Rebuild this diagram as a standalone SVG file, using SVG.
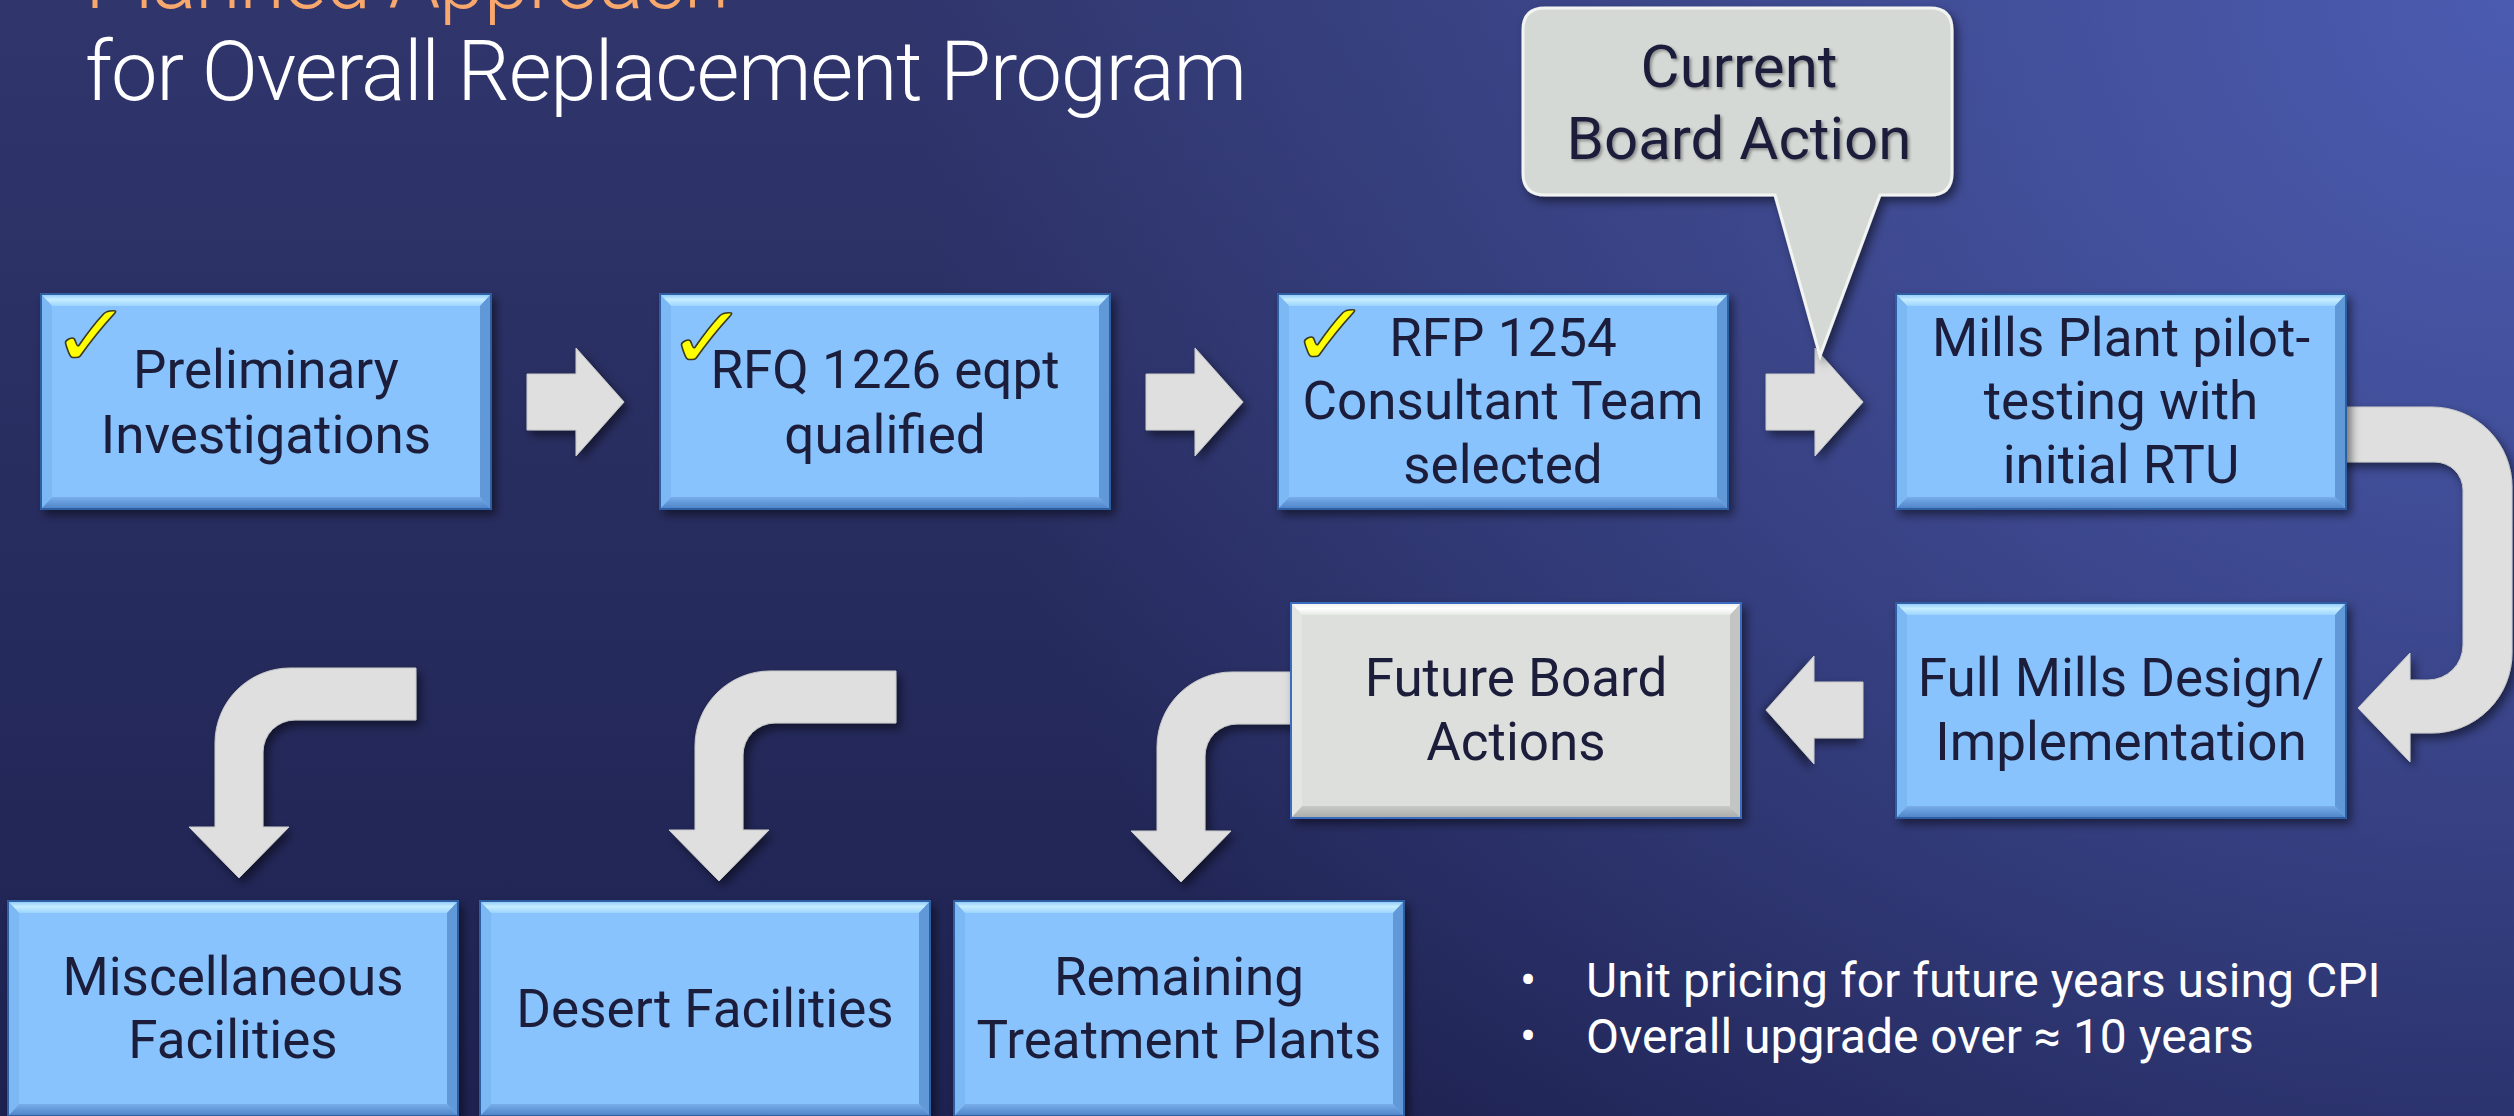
<svg xmlns="http://www.w3.org/2000/svg" width="2514" height="1116" viewBox="0 0 2514 1116">
<defs>
  <linearGradient id="bgv" x1="0" y1="0" x2="0" y2="1">
    <stop offset="0" stop-color="#30366C"/>
    <stop offset="1" stop-color="#1E2251"/>
  </linearGradient>
  <radialGradient id="bgr" cx="2514" cy="0" r="1600" gradientUnits="userSpaceOnUse">
    <stop offset="0" stop-color="#4B5BB0" stop-opacity="1"/>
    <stop offset="1" stop-color="#4B5BB0" stop-opacity="0"/>
  </radialGradient>
  <linearGradient id="topb" x1="0" y1="0" x2="0" y2="1">
    <stop offset="0" stop-color="#7FC0FA"/>
    <stop offset="0.5" stop-color="#C6EDFF"/>
    <stop offset="1" stop-color="#9CD4FF"/>
  </linearGradient>
  <linearGradient id="botb" x1="0" y1="0" x2="0" y2="1">
    <stop offset="0" stop-color="#78AEEA"/>
    <stop offset="1" stop-color="#4A7EC4"/>
  </linearGradient>
  <linearGradient id="topg" x1="0" y1="0" x2="0" y2="1">
    <stop offset="0" stop-color="#E8EAE8"/>
    <stop offset="0.5" stop-color="#FFFFFF"/>
    <stop offset="1" stop-color="#E6E8E6"/>
  </linearGradient>
  <linearGradient id="botg" x1="0" y1="0" x2="0" y2="1">
    <stop offset="0" stop-color="#C8CAC8"/>
    <stop offset="1" stop-color="#A6A9A6"/>
  </linearGradient>
  <filter id="sh" x="-10%" y="-10%" width="130%" height="130%">
    <feDropShadow dx="4" dy="5" stdDeviation="5" flood-color="#000" flood-opacity="0.5"/>
  </filter>
  <filter id="tsh" x="-5%" y="-5%" width="110%" height="120%">
    <feDropShadow dx="2" dy="2" stdDeviation="1.5" flood-color="#000" flood-opacity="0.35"/>
  </filter>
  <g id="bbox">
    <rect width="452" height="217" fill="#88C3FD"/>
    <polygon points="0,0 452,0 440,13 12,13" fill="url(#topb)"/>
    <polygon points="0,217 452,217 440,204 12,204" fill="url(#botb)"/>
    <polygon points="0,0 12,13 12,204 0,217" fill="#7CB8F4"/>
    <polygon points="452,0 440,13 440,204 452,217" fill="#6198D8"/>
    <rect x="1" y="1" width="450" height="215" fill="none" stroke="#2E5EA2" stroke-width="2"/>
  </g>
  <g id="gbox">
    <rect width="452" height="217" fill="#DDDFDD"/>
    <polygon points="0,0 452,0 440,13 12,13" fill="url(#topg)"/>
    <polygon points="0,217 452,217 440,204 12,204" fill="url(#botg)"/>
    <polygon points="0,0 12,13 12,204 0,217" fill="#E4E6E4"/>
    <polygon points="452,0 440,13 440,204 452,217" fill="#C2C5C2"/>
    <rect x="1" y="1" width="450" height="215" fill="none" stroke="#3A6CC0" stroke-width="2"/>
  </g>
  <path id="rarr" d="M0,-28 H49 V-54 L97,0 L49,54 V28 H0 Z"/>
  <path id="bend" d="M177,0 H51 A75,75 0 0 0 -24,75 V159 H-50 L0,210 L50,159 H24 V84 A32,32 0 0 1 56,52 H177 Z"/>
</defs>
<style>
  .t { font-family: Roboto, "Liberation Sans", sans-serif; font-size: 53px; fill: #1B1D3B; text-anchor: middle; }
  .ttl { font-family: Roboto, "Liberation Sans", sans-serif; font-size: 83px; font-weight: 300; letter-spacing: -1.4px; }
  .bul { font-family: Roboto, "Liberation Sans", sans-serif; font-size: 48px; fill: #FFFFFF; }
  .ck { font-family: "DejaVu Sans", sans-serif; font-size: 88px; fill: #FFFF00; stroke: #3A3A20; stroke-width: 1.5px; }
  .arr { fill: #DEDFDE; stroke: #C8CAC8; stroke-width: 1; filter: url(#sh); }
  .ct { font-family: Roboto, "Liberation Sans", sans-serif; font-size: 60px; fill: #1B1D3B; text-anchor: middle; filter: url(#tsh); }
</style>

<rect width="2514" height="1116" fill="url(#bgv)"/>
<rect width="2514" height="1116" fill="url(#bgr)"/>

<g id="title">
  <text class="ttl" x="85" y="8" fill="#F8A86C">Planned Approach</text>
  <text class="ttl" x="85" y="100" fill="#FFFFFF">for Overall Replacement Program</text>
</g>

<g id="connectors">
  <use href="#rarr" class="arr" transform="translate(527,402)"/>
  <use href="#rarr" class="arr" transform="translate(1146,402)"/>
  <use href="#rarr" class="arr" transform="translate(1766,402)"/>
  <use href="#rarr" class="arr" transform="translate(1863,710) scale(-1,1)"/>
  <path class="arr" d="M2330,407 H2432 A80,80 0 0 1 2512,487 V653 A80,80 0 0 1 2432,733 H2410 V762 L2358,708 L2410,653 V680 H2428 A35,35 0 0 0 2463,645 V490 A28,28 0 0 0 2435,462 H2330 Z"/>
  <use href="#bend" class="arr" transform="translate(239,668)"/>
  <use href="#bend" class="arr" transform="translate(719,671)"/>
  <use href="#bend" class="arr" transform="translate(1181,672)"/>
</g>

<g id="n1" filter="url(#sh)">
  <use href="#bbox" x="40" y="293"/>
  <text class="ck" transform="translate(51,366) scale(1.1,1)">✓</text>
  <text class="t" x="266" y="388">Preliminary</text>
  <text class="t" x="266" y="453">Investigations</text>
</g>
<g id="n2" filter="url(#sh)">
  <use href="#bbox" x="659" y="293"/>
  <text class="ck" transform="translate(667,368) scale(1.1,1)">✓</text>
  <text class="t" x="885" y="388">RFQ 1226 eqpt</text>
  <text class="t" x="885" y="453">qualified</text>
</g>
<g id="n3" filter="url(#sh)">
  <use href="#bbox" x="1277" y="293"/>
  <text class="ck" transform="translate(1290,365) scale(1.1,1)">✓</text>
  <text class="t" x="1503" y="356">RFP 1254</text>
  <text class="t" x="1503" y="419">Consultant Team</text>
  <text class="t" x="1503" y="483">selected</text>
</g>
<g id="n4" filter="url(#sh)">
  <use href="#bbox" x="1895" y="293"/>
  <text class="t" x="2121" y="356">Mills Plant pilot-</text>
  <text class="t" x="2121" y="419">testing with</text>
  <text class="t" x="2121" y="483">initial RTU</text>
</g>
<g id="n5" filter="url(#sh)">
  <use href="#bbox" x="1895" y="602"/>
  <text class="t" x="2121" y="696">Full Mills Design/</text>
  <text class="t" x="2121" y="760">Implementation</text>
</g>
<g id="n6" filter="url(#sh)">
  <use href="#gbox" x="1290" y="602"/>
  <text class="t" x="1516" y="696">Future Board</text>
  <text class="t" x="1516" y="760">Actions</text>
</g>
<g id="n7" filter="url(#sh)">
  <use href="#bbox" x="7" y="900"/>
  <text class="t" x="233" y="995">Miscellaneous</text>
  <text class="t" x="233" y="1058">Facilities</text>
</g>
<g id="n8" filter="url(#sh)">
  <use href="#bbox" x="479" y="900"/>
  <text class="t" x="705" y="1027">Desert Facilities</text>
</g>
<g id="n9" filter="url(#sh)">
  <use href="#bbox" x="953" y="900"/>
  <text class="t" x="1179" y="995">Remaining</text>
  <text class="t" x="1179" y="1058">Treatment Plants</text>
</g>

<g id="callout">
  <path d="M1545,8 H1930 Q1952,8 1952,30 V173 Q1952,195 1930,195 H1880 L1820,356 L1775,195 H1545 Q1523,195 1523,173 V30 Q1523,8 1545,8 Z" fill="#D5D9D5" stroke="#F2F4F2" stroke-width="3" filter="url(#sh)"/>
  <text class="ct" x="1739" y="87">Current</text>
  <text class="ct" x="1739" y="159">Board Action</text>
</g>

<g id="notes">
  <text class="bul" x="1520" y="997">•</text>
  <text class="bul" x="1586" y="997">Unit pricing for future years using CPI</text>
  <text class="bul" x="1520" y="1053">•</text>
  <text class="bul" x="1586" y="1053">Overall upgrade over ≈ 10 years</text>
</g>
</svg>
